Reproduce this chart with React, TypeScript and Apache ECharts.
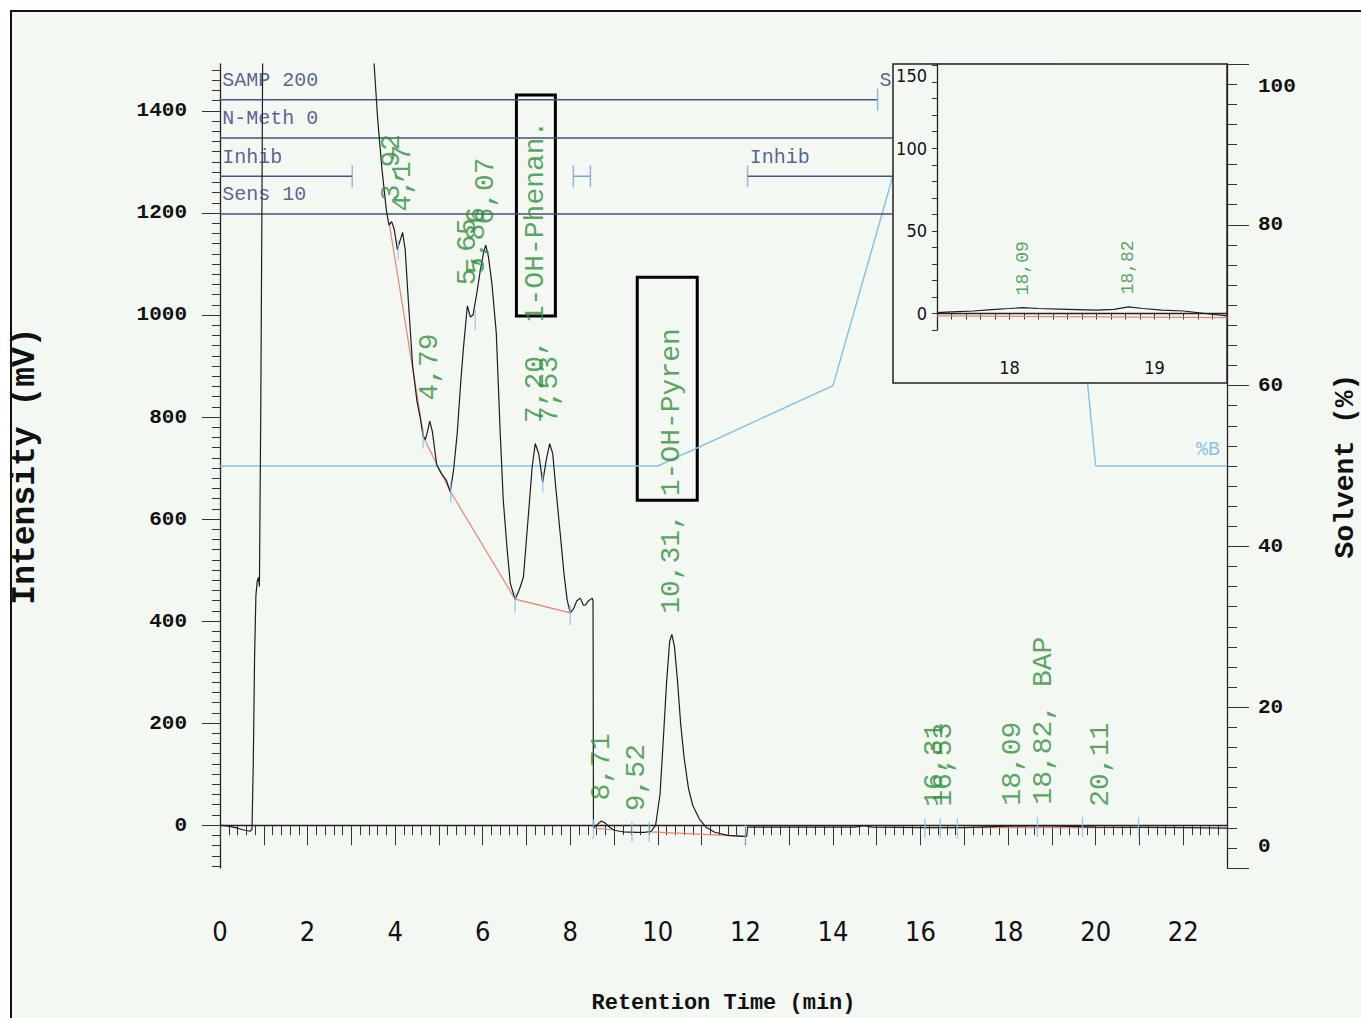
import React, { useEffect, useRef } from "react";
import * as echarts from "echarts";

// ---------- data ----------
const signal: [number, number][] = [
  [0, 0], [0.2, -2], [0.4, -6], [0.57, -10], [0.69, -12], [0.73, -8], [0.76, 120], [0.79, 330],
  [0.82, 450], [0.85, 478], [0.88, 486], [0.9, 468], [0.93, 800], [0.96, 1250], [0.985, 1700],
  [3.45, 1700], [3.52, 1492], [3.6, 1385], [3.7, 1285], [3.8, 1205], [3.86, 1176], [3.92, 1183],
  [3.98, 1168], [4.05, 1128], [4.1, 1142], [4.17, 1162], [4.23, 1128], [4.3, 1030], [4.4, 900],
  [4.5, 830], [4.57, 800], [4.64, 762], [4.69, 756], [4.74, 772], [4.79, 792], [4.85, 772],
  [4.95, 706], [5.05, 690], [5.17, 676], [5.26, 653], [5.34, 700], [5.42, 770], [5.5, 870],
  [5.56, 935], [5.65, 1018], [5.72, 996], [5.78, 1000], [5.86, 1040], [5.95, 1090], [6.02, 1122],
  [6.07, 1137], [6.13, 1115], [6.21, 1062], [6.31, 965], [6.4, 769], [6.47, 637], [6.56, 539],
  [6.63, 474], [6.74, 443], [6.83, 460], [6.93, 486], [7.04, 604], [7.13, 702], [7.2, 748],
  [7.28, 728], [7.37, 672], [7.45, 715], [7.53, 748], [7.6, 728], [7.66, 670], [7.77, 572],
  [7.86, 490], [7.93, 441], [8.0, 416], [8.08, 425], [8.15, 440], [8.23, 445], [8.3, 431],
  [8.34, 431], [8.42, 440], [8.5, 445], [8.52, 440], [8.53, -5], [8.6, 0], [8.71, 8], [8.8, 4],
  [8.9, -4], [9.0, -10], [9.2, -13], [9.52, -14], [9.7, -14], [9.85, -12], [9.95, 0], [10.05, 60],
  [10.12, 160], [10.2, 280], [10.27, 360], [10.32, 374], [10.38, 350], [10.45, 282], [10.52, 200],
  [10.6, 132], [10.7, 72], [10.8, 38], [10.95, 12], [11.1, -4], [11.3, -14], [11.6, -20],
  [11.95, -22], [12.03, -22], [12.05, -4], [13.5, -4], [14.5, -4], [14.7, -1], [14.9, -4],
  [16.0, -5], [17.0, -5], [18.0, -2], [18.8, -1], [20.0, -4], [22.0, -5], [23.0, -6],
];

const baselineSegments: [number, number][][] = [
  [[3.86, 1182], [4.66, 758], [5.27, 653], [6.74, 443], [8.0, 416]],
  [[8.53, -6], [8.95, -9]],
  [[9.82, -13], [12.02, -22]],
  [[16.1, -5], [21.0, -5]],
];

const solventB: [number, number][] = [
  [0, 50], [10, 50], [14, 60], [16.1, 100], [19.1, 100], [20, 50], [23, 50],
];

const peakTimes = [3.92, 4.17, 4.79, 5.65, 5.86, 6.07, 7.2, 7.53, 8.71, 9.52, 10.31, 16.31, 16.53, 18.09, 18.82, 20.11];
const peakHeights = [1183, 1162, 792, 1018, 1040, 1137, 748, 748, 8, -13, 374, -4, -4, -2, 0, -4];
const peakLabels = [
  "3,92", "4,17", "4,79", "5,65", "5,86", "6,07", "7,20, 1-OH-Phenan.", "7,53", "8,71", "9,52",
  "10,31, 1-OH-Pyren", "16,31", "16,53", "18,09", "18,82, BAP", "20,11",
];

const markerTimes = [4.07, 4.64, 5.27, 5.83, 6.74, 7.37, 8.0, 8.53, 9.41, 9.8, 12.0, 16.1, 16.45, 16.84, 18.67, 19.7, 20.98];
const markerValues = [1128, 758, 653, 990, 436, 672, 412, -8, -13, -13, -18, -6, -6, -6, -4, -4, -4];

// compound boxes: [tStart, vTop, tEnd, vBottom]
const compoundBoxes: [number, number, number, number][] = [
  [6.77, 1431, 7.66, 998],
  [9.53, 1074, 10.9, 637],
];

// event rows (software event table)
const rowNames = ["SAMP 200", "N-Meth 0", "Inhib", "Sens 10"];
const rowLevels = [1422, 1347, 1272, 1198];
const rowSegments: [number, number, number][] = [
  // [rowIndex, start, end]
  [0, 0, 15.02], [1, 0, 23], [2, 0, 3.02], [2, 12.05, 23], [3, 0, 23],
];
const rowLightSegments: [number, number, number][] = [[2, 8.07, 8.46]];
const rowTicks: [number, number][] = [[2, 3.02], [2, 8.07], [2, 8.46], [2, 12.05], [0, 15.02]];
const rowExtraTexts: [number, number, string][] = [[2, 12.09, "Inhib"], [0, 15.05, "S"]];

// inset (zoom 17.5 – 19.5 min)
const insetSignal: [number, number][] = [
  [17.5, 0.5], [17.6, 1], [17.75, 1.5], [17.9, 2.5], [18.0, 3], [18.09, 3.5], [18.2, 3], [18.4, 2.5],
  [18.6, 2], [18.72, 2.5], [18.82, 4], [18.92, 3], [19.05, 2], [19.2, 1.5], [19.35, 0], [19.5, -1.5],
];
const insetBaseline: [number, number][] = [[17.5, -1.5], [19.5, -2.5]];
const insetPeakTimes = [18.09, 18.82];
const insetPeakHeights = [3.5, 4];
const insetPeakLabels = ["18,09", "18,82"];

const leftLabelValues = [0, 200, 400, 600, 800, 1000, 1200, 1400];
const leftMinorTicks: number[] = [];
for (let v = -80; v <= 1480; v += 20) leftMinorTicks.push(v);
const insetYTicks: number[] = [];
for (let v = -10; v <= 150; v += 10) insetYTicks.push(v);
const insetXTicks: number[] = [];
for (let i = 0; i <= 20; i++) insetXTicks.push(Math.round((17.5 + i * 0.1) * 10) / 10);

// ---------- styling ----------
const MONO = "'Liberation Mono', 'DejaVu Sans Mono', monospace";
const NARROW = "'Liberation Sans Narrow', 'DejaVu Sans Condensed', 'Liberation Sans', sans-serif";
const BG = "#f4f8f3";
const INK = "#1e1e1e";
const RED = "#e5846f";
const LIGHTBLUE = "#86c3ea";
const NAVY = "#46537f";
const GREEN = "#2f8f3a";

export default function App() {
  const ref = useRef<HTMLDivElement>(null);

  useEffect(() => {
    if (!ref.current) return;
    const chart = echarts.init(ref.current, undefined, { renderer: "svg" });

    const series: any[] = [];

    series.push({
      type: "line", name: "signal", xAxisIndex: 0, yAxisIndex: 0, data: signal,
      symbol: "none", silent: true, z: 2,
      lineStyle: { color: INK, width: 1.2 },
      markArea: {
        silent: true,
        itemStyle: { color: "rgba(0,0,0,0)", borderColor: "#000", borderWidth: 3 },
        data: compoundBoxes.map((b) => [{ coord: [b[0], b[1]] }, { coord: [b[2], b[3]] }]),
      },
    });

    baselineSegments.forEach((seg) => {
      series.push({
        type: "line", xAxisIndex: 0, yAxisIndex: 0, data: seg, symbol: "none", silent: true, z: 1,
        lineStyle: { color: RED, width: 1.2 },
      });
    });

    series.push({
      type: "line", name: "%B", xAxisIndex: 0, yAxisIndex: 1, data: solventB, symbol: "none",
      silent: true, z: 1, lineStyle: { color: LIGHTBLUE, width: 1.5 },
    });

    rowSegments.forEach((s) => {
      series.push({
        type: "line", xAxisIndex: 0, yAxisIndex: 0,
        data: [[s[1], rowLevels[s[0]]], [s[2], rowLevels[s[0]]]],
        symbol: "none", silent: true, z: 1, lineStyle: { color: NAVY, width: 1.5 },
      });
    });
    rowLightSegments.forEach((s) => {
      series.push({
        type: "line", xAxisIndex: 0, yAxisIndex: 0,
        data: [[s[1], rowLevels[s[0]]], [s[2], rowLevels[s[0]]]],
        symbol: "none", silent: true, z: 1, lineStyle: { color: "#7aa6d6", width: 1.5 },
      });
    });

    series.push({
      type: "scatter", xAxisIndex: 0, yAxisIndex: 0, silent: true, z: 2,
      data: rowTicks.map((r) => [r[1], rowLevels[r[0]]]),
      symbol: "rect", symbolSize: [1.5, 22], itemStyle: { color: "#7aa6d6" },
    });

    series.push({
      type: "scatter", xAxisIndex: 0, yAxisIndex: 0, silent: true, z: 2,
      data: markerTimes.map((t, i) => [t, markerValues[i]]),
      symbol: "rect", symbolSize: [1.4, 20], itemStyle: { color: LIGHTBLUE },
    });

    series.push({
      type: "scatter", xAxisIndex: 0, yAxisIndex: 0, silent: true, z: 2,
      data: peakTimes.map((t, i) => [t, peakHeights[i], peakLabels[i]]),
      symbolSize: 1, itemStyle: { color: "rgba(0,0,0,0)" },
      label: {
        show: true, position: "top", distance: 20, rotate: 90, align: "left", verticalAlign: "middle",
        formatter: (p: any) => p.value[2], color: GREEN, fontFamily: MONO, fontSize: 28,
      },
    });

    const rowTextData: any[] = rowNames.map((n, i) => [0.04, rowLevels[i], n]);
    rowExtraTexts.forEach((r) => rowTextData.push([r[1], rowLevels[r[0]], r[2]]));
    series.push({
      type: "scatter", xAxisIndex: 0, yAxisIndex: 0, silent: true, z: 2,
      data: rowTextData, symbolSize: 1, itemStyle: { color: "rgba(0,0,0,0)" },
      label: {
        show: true, position: "right", distance: 0, offset: [0, -19], align: "left", verticalAlign: "middle",
        formatter: (p: any) => p.value[2], color: "#2c3c78", fontFamily: MONO, fontSize: 20,
      },
    });

    series.push({
      type: "scatter", xAxisIndex: 0, yAxisIndex: 1, silent: true, z: 2,
      data: [[22.85, 50, "%B"]], symbolSize: 1, itemStyle: { color: "rgba(0,0,0,0)" },
      label: {
        show: true, position: "left", distance: 0, offset: [0, -17], align: "right", verticalAlign: "middle",
        formatter: (p: any) => p.value[2], color: "#6fb2e0", fontFamily: MONO, fontSize: 20,
      },
    });

    // inset
    series.push({
      type: "line", xAxisIndex: 1, yAxisIndex: 3, data: insetBaseline, symbol: "none", silent: true, z: 5,
      lineStyle: { color: RED, width: 1.2 },
    });
    series.push({
      type: "line", xAxisIndex: 1, yAxisIndex: 3, data: insetSignal, symbol: "none", silent: true, z: 6,
      lineStyle: { color: INK, width: 1.2 },
    });
    series.push({
      type: "scatter", xAxisIndex: 1, yAxisIndex: 3, silent: true, z: 6,
      data: insetPeakTimes.map((t, i) => [t, insetPeakHeights[i], insetPeakLabels[i]]),
      symbolSize: 1, itemStyle: { color: "rgba(0,0,0,0)" },
      label: {
        show: true, position: "top", distance: 12, rotate: 90, align: "left", verticalAlign: "middle",
        formatter: (p: any) => p.value[2], color: GREEN, fontFamily: MONO, fontSize: 18,
      },
    });

    const axisLine = { show: true, lineStyle: { color: "#222", width: 1.3 } };

    chart.setOption({
      animation: false,
      backgroundColor: "rgba(0,0,0,0)",
      grid: [
        { left: 220, top: 64, width: 1007, height: 804, outerBoundsMode: "none", containLabel: false },
        { left: 937, top: 64, width: 290, height: 266, outerBoundsMode: "none", containLabel: false },
      ],
      graphic: [
        {
          type: "rect", z: 3, silent: true,
          shape: { x: 893, y: 64, width: 334, height: 319 },
          style: { fill: BG, stroke: "#222", lineWidth: 1.5 },
        },
      ],
      xAxis: [
        {
          type: "value", gridIndex: 0, min: 0, max: 23, interval: 1, position: "bottom",
          axisLine, splitLine: { show: false },
          axisTick: { show: true, length: 20, lineStyle: { color: "#333", width: 1 } },
          minorTick: { show: true, splitNumber: 5, length: 10, lineStyle: { color: "#333", width: 1 } },
          axisLabel: {
            margin: 50, color: "#111", fontFamily: NARROW, fontSize: 27,
            formatter: (v: number) => (v % 2 === 0 ? String(v) : ""),
          },
          name: "Retention Time (min)", nameLocation: "middle", nameGap: 124,
          nameTextStyle: { color: "#111", fontFamily: MONO, fontSize: 22, fontWeight: "bold" },
        },
        {
          type: "value", gridIndex: 1, min: 17.5, max: 19.5, position: "bottom", z: 4,
          axisLine, splitLine: { show: false },
          axisTick: { show: true, length: 6, customValues: insetXTicks, lineStyle: { color: "#333" } },
          axisLabel: {
            customValues: [18, 19], margin: 28, color: "#111", fontFamily: NARROW, fontSize: 18,
            formatter: (v: number) => String(v),
          },
        },
      ],
      yAxis: [
        {
          type: "value", gridIndex: 0, min: -84, max: 1492, position: "left",
          axisLine, splitLine: { show: false },
          axisTick: { show: true, length: 8, customValues: leftMinorTicks, lineStyle: { color: "#333" } },
          axisLabel: {
            customValues: leftLabelValues, margin: 33, color: "#111", fontFamily: MONO,
            fontSize: 21, fontWeight: "bold", formatter: (v: number) => String(v),
          },
          name: "Intensity (mV)", nameLocation: "middle", nameGap: 178, nameRotate: 90,
          nameTextStyle: { color: "#111", fontFamily: MONO, fontSize: 33, fontWeight: "bold" },
        },
        {
          type: "value", gridIndex: 0, min: 0, max: 100, interval: 20, position: "right",
          axisLine, splitLine: { show: false },
          axisTick: { show: true, length: 22, lineStyle: { color: "#333" } },
          minorTick: { show: true, splitNumber: 8, length: 10, lineStyle: { color: "#333" } },
          axisLabel: {
            margin: 31, color: "#111", fontFamily: MONO, fontSize: 21, fontWeight: "bold",
            formatter: (v: number) => (v === 100 ? "{top|100}" : v === 0 ? "{bot|0}" : String(v)),
            rich: {
              top: { padding: [44, 0, 0, 0], fontFamily: MONO, fontSize: 21, fontWeight: "bold", color: "#111" },
              bot: { padding: [0, 0, 44, 0], fontFamily: MONO, fontSize: 21, fontWeight: "bold", color: "#111" },
            },
          },
          name: "Solvent (%)", nameLocation: "middle", nameGap: 104, nameRotate: 90,
          nameTextStyle: { color: "#111", fontFamily: MONO, fontSize: 28, fontWeight: "bold" },
        },
        {
          type: "value", gridIndex: 0, min: -84, max: 1492, position: "left",
          axisLine: { show: false }, splitLine: { show: false }, axisLabel: { show: false },
          axisTick: { show: true, length: 18, customValues: leftLabelValues, lineStyle: { color: "#333" } },
        },
        {
          type: "value", gridIndex: 1, min: -10, max: 151, position: "left", z: 4,
          axisLine, splitLine: { show: false },
          axisTick: { show: true, length: 5, customValues: insetYTicks, lineStyle: { color: "#333" } },
          axisLabel: {
            customValues: [0, 50, 100, 150], margin: 10, color: "#111", fontFamily: NARROW, fontSize: 18,
            formatter: (v: number) => (v === 150 ? "{top|150}" : String(v)),
            rich: { top: { padding: [20, 0, 0, 0], fontFamily: NARROW, fontSize: 18, color: "#111" } },
          },
        },
      ],
      series,
    });

    return () => chart.dispose();
  }, []);

  return (
    <div style={{ position: "fixed", left: 0, top: 0, width: 1361, height: 1018, background: "#fff", overflow: "hidden" }}>
      <div
        style={{
          position: "absolute", left: 10, top: 10, width: 1360, height: 1020,
          border: "2px solid #111", background: BG, boxSizing: "border-box",
        }}
      />
      <div ref={ref} style={{ position: "absolute", left: 0, top: 0, width: 1361, height: 1018 }} />
    </div>
  );
}
